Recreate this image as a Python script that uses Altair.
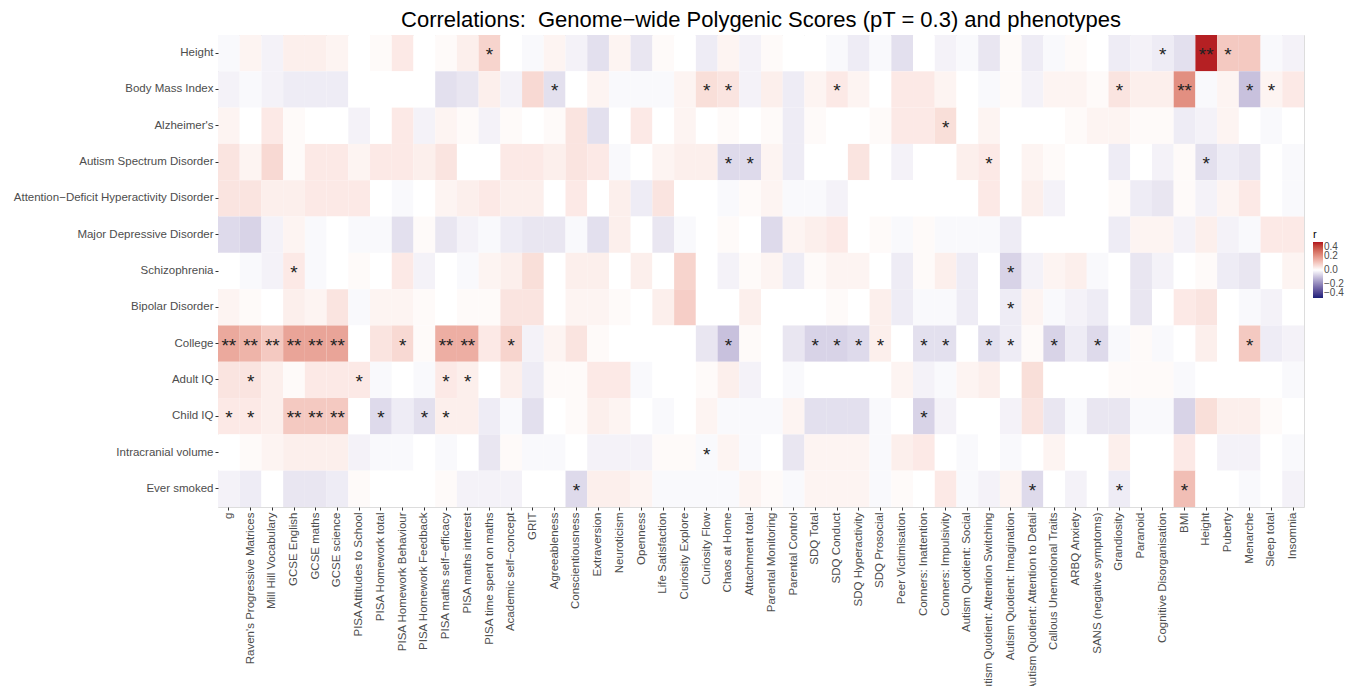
import altair as alt
import pandas as pd

TRAITS = ["Height", "Body Mass Index", "Alzheimer's", "Autism Spectrum Disorder",
          "Attention\u2212Deficit Hyperactivity Disorder", "Major Depressive Disorder",
          "Schizophrenia", "Bipolar Disorder", "College", "Adult IQ", "Child IQ",
          "Intracranial volume", "Ever smoked"]

PHENOTYPES = ["g", "Raven's Progressive Matrices", "Mill Hill Vocabulary", "GCSE English",
              "GCSE maths", "GCSE science", "PISA Attitudes to School", "PISA Homework total",
              "PISA Homework Behaviour", "PISA Homework Feedback", "PISA maths self\u2212efficacy",
              "PISA maths interest", "PISA time spent on maths", "Academic self\u2212concept", "GRIT",
              "Agreeableness", "Conscientiousness", "Extraversion", "Neuroticism", "Openness",
              "Life Satisfaction", "Curiosity Explore", "Curiosity Flow", "Chaos at Home",
              "Attachment total", "Parental Monitoring", "Parental Control", "SDQ Total",
              "SDQ Conduct", "SDQ Hyperactivity", "SDQ Prosocial", "Peer Victimisation",
              "Conners: Inattention", "Conners: Impulsivity", "Autism Quotient: Social",
              "Autism Quotient: Attention Switching", "Autism Quotient: Imagination",
              "Autism Quotient: Attention to Detail", "Callous Unemotional Traits", "ARBQ Anxiety",
              "SANS (negative symptoms)", "Grandiosity", "Paranoid", "Cognitive Disorganisation",
              "BMI", "Height", "Puberty", "Menarche", "Sleep total", "Insomnia"]

R_HEIGHT = [-0.01, 0.02, -0.02, 0.03, 0.03, 0.02, 0.0, 0.01, 0.04, 0.0, 0.01, 0.03, 0.08,
            0.0, -0.01, 0.02, -0.02, -0.05, 0.02, -0.04, 0.01, 0.0, -0.03, 0.02, -0.02,
            0.01, 0.0, 0.0, -0.01, -0.03, -0.01, -0.05, 0.0, -0.02, -0.01, -0.04, 0.01, -0.03,
            -0.01, 0.01, 0.0, -0.03, -0.02, -0.03, -0.05, 0.39, 0.1, 0.1, -0.01, -0.02]
R_BMI = [-0.02, -0.01, -0.02, -0.03, -0.03, -0.03, 0.0, 0.0, 0.0, 0.0, -0.05, -0.04, 0.03,
         -0.02, 0.07, -0.05, 0.0, 0.02, -0.01, -0.01, -0.01, 0.02, 0.06, 0.05, -0.02,
         0.03, -0.03, 0.02, 0.04, 0.02, 0.0, 0.04, 0.04, 0.02, 0.0, -0.01, 0.01, -0.02,
         0.02, 0.02, 0.01, 0.05, 0.03, 0.03, 0.21, -0.01, 0.02, -0.1, 0.02, 0.04]
R_ALZ = [0.02, 0.0, 0.04, 0.01, 0.0, 0.0, -0.02, 0.0, 0.04, -0.02, 0.02, 0.01, -0.02,
         0.01, 0.0, 0.01, 0.05, -0.05, 0.0, 0.04, 0.0, 0.02, 0.0, 0.01, 0.0,
         0.01, -0.03, 0.01, 0.0, 0.0, 0.01, 0.04, 0.04, 0.06, 0.0, 0.02, 0.0, 0.0,
         0.0, 0.01, 0.02, 0.02, 0.01, 0.01, -0.03, -0.02, 0.02, 0.0, -0.01, 0.0]
R_ASD = [0.05, 0.02, 0.07, 0.01, 0.04, 0.04, 0.02, 0.04, 0.04, 0.03, 0.05, 0.0, 0.0,
         0.04, 0.04, 0.03, 0.05, 0.04, -0.01, 0.0, 0.02, 0.03, 0.03, -0.06, -0.06,
         0.02, -0.03, 0.0, 0.0, 0.05, 0.0, -0.02, 0.0, 0.0, 0.03, 0.04, 0.0, 0.02,
         0.01, 0.0, 0.0, -0.03, 0.0, -0.02, 0.01, -0.05, -0.03, -0.04, 0.0, -0.01]
R_ADHD = [0.05, 0.05, 0.03, 0.03, 0.04, 0.04, 0.04, 0.0, -0.01, 0.0, 0.02, 0.03, 0.04,
          0.03, 0.03, 0.0, 0.04, 0.0, 0.03, -0.03, 0.05, 0.0, 0.0, -0.01, 0.01,
          0.02, -0.01, -0.01, -0.02, 0.0, 0.0, 0.0, 0.0, 0.0, 0.0, 0.04, 0.0, 0.03,
          -0.02, 0.0, 0.0, 0.01, -0.03, -0.04, 0.01, -0.02, 0.02, 0.04, 0.0, -0.01]
R_MDD = [-0.06, -0.07, -0.02, 0.02, -0.01, 0.0, -0.01, -0.01, -0.05, 0.01, -0.04, -0.02, -0.01,
         -0.03, -0.04, -0.04, -0.01, -0.05, 0.03, 0.0, -0.04, -0.01, 0.0, 0.01, 0.0,
         -0.06, 0.02, 0.03, 0.04, 0.0, 0.01, -0.01, 0.01, -0.01, -0.01, -0.01, -0.03, 0.0,
         0.0, 0.0, 0.0, -0.03, 0.02, 0.02, -0.02, 0.03, -0.02, -0.01, 0.04, 0.04]
R_SCZ = [0.0, -0.01, -0.02, 0.04, -0.01, 0.0, 0.01, 0.0, 0.04, -0.02, 0.0, -0.01, 0.02,
         0.03, 0.06, 0.0, 0.03, 0.03, 0.0, 0.03, 0.0, 0.08, 0.0, -0.02, 0.01,
         0.02, -0.03, 0.01, 0.02, 0.02, 0.0, -0.03, 0.01, 0.03, -0.03, 0.0, -0.07, -0.02,
         0.02, 0.03, -0.01, 0.0, -0.04, -0.02, 0.0, 0.01, -0.03, -0.04, 0.0, 0.02]
R_BIP = [0.02, 0.01, 0.0, 0.03, 0.02, 0.05, -0.01, 0.02, 0.02, 0.01, 0.0, 0.01, 0.01,
         0.05, 0.05, 0.0, 0.02, 0.02, 0.01, 0.0, 0.03, 0.09, 0.0, 0.0, 0.03,
         0.0, 0.0, 0.0, 0.01, 0.0, 0.03, -0.03, -0.01, -0.01, -0.03, 0.0, -0.03, 0.02,
         -0.01, -0.02, -0.03, 0.0, -0.04, 0.0, 0.04, 0.05, 0.0, -0.01, -0.02, 0.0]
R_COLLEGE = [0.16, 0.14, 0.1, 0.17, 0.17, 0.17, 0.0, 0.05, 0.07, 0.01, 0.15, 0.15, 0.04,
             0.08, -0.02, 0.02, 0.05, 0.01, 0.0, 0.0, 0.0, 0.0, -0.04, -0.1, 0.01,
             0.0, -0.04, -0.07, -0.07, -0.06, 0.03, 0.0, -0.05, -0.05, 0.0, -0.05, -0.03, 0.01,
             -0.07, -0.03, -0.06, -0.01, 0.01, -0.01, 0.0, 0.03, 0.0, 0.1, -0.03, -0.02]
R_ADULTIQ = [0.05, 0.05, 0.03, 0.01, 0.04, 0.04, 0.04, -0.01, 0.0, -0.01, 0.04, 0.03, 0.0,
             0.03, -0.03, 0.01, 0.01, 0.04, 0.04, -0.01, 0.0, 0.0, 0.01, 0.03, -0.02,
             0.0, -0.01, 0.0, 0.0, 0.0, 0.0, 0.02, -0.02, -0.01, 0.02, 0.03, 0.0, 0.06,
             0.0, 0.0, 0.0, 0.01, 0.01, 0.01, -0.01, 0.0, 0.0, 0.0, 0.0, -0.01]
R_CHILDIQ = [0.04, 0.04, 0.03, 0.1, 0.1, 0.1, 0.0, -0.06, -0.03, -0.05, 0.03, 0.03, -0.03,
             -0.01, -0.05, 0.0, 0.01, 0.03, 0.02, 0.0, -0.01, 0.0, 0.02, -0.01, -0.01,
             -0.01, 0.02, -0.05, -0.05, -0.05, -0.01, 0.0, -0.07, -0.02, 0.0, 0.0, -0.02, 0.05,
             -0.04, -0.01, -0.04, -0.04, -0.01, -0.01, -0.07, 0.06, 0.03, 0.03, 0.01, 0.0]
R_ICV = [0.0, 0.01, 0.02, 0.03, 0.03, 0.03, -0.02, -0.01, -0.01, 0.0, -0.01, 0.0, -0.04,
         0.01, -0.01, -0.01, 0.0, -0.02, -0.02, -0.02, 0.01, 0.01, -0.01, 0.02, -0.01,
         0.0, -0.04, 0.02, 0.02, 0.02, -0.01, 0.03, 0.04, 0.0, -0.01, 0.0, -0.01, 0.0,
         0.02, 0.0, 0.0, 0.03, 0.0, 0.0, 0.04, 0.0, -0.02, -0.02, 0.0, -0.01]
R_SMOKED = [-0.02, -0.03, 0.0, -0.04, -0.04, -0.03, 0.01, 0.0, 0.0, 0.0, 0.01, -0.02, -0.02,
            -0.02, 0.0, 0.0, -0.06, 0.03, 0.03, 0.02, -0.01, -0.01, -0.01, -0.01, 0.02,
            0.01, -0.01, 0.02, 0.02, 0.02, -0.01, 0.01, 0.0, 0.04, -0.01, -0.02, 0.02, -0.06,
            0.0, -0.02, 0.0, -0.03, 0.0, 0.0, 0.12, 0.0, 0.0, -0.01, 0.0, -0.02]

ROWS = [R_HEIGHT, R_BMI, R_ALZ, R_ASD, R_ADHD, R_MDD, R_SCZ, R_BIP,
        R_COLLEGE, R_ADULTIQ, R_CHILDIQ, R_ICV, R_SMOKED]

# significance markers: trait index, phenotype index, label
STAR_TRAIT = [0, 0, 0, 0,
              1, 1, 1, 1, 1, 1, 1, 1,
              2,
              3, 3, 3, 3,
              6, 6,
              7,
              8, 8, 8, 8, 8, 8, 8, 8, 8, 8, 8, 8, 8, 8, 8, 8, 8, 8, 8, 8, 8, 8,
              9, 9, 9, 9,
              10, 10, 10, 10, 10, 10, 10, 10, 10,
              11,
              12, 12, 12, 12]
STAR_PHENO = [12, 43, 45, 46,
              15, 22, 23, 28, 41, 44, 47, 48,
              33,
              23, 24, 35, 45,
              3, 36,
              36,
              0, 1, 2, 3, 4, 5, 8, 10, 11, 13, 23, 27, 28, 29, 30, 32, 33, 35, 36, 38, 40, 47,
              1, 6, 10, 11,
              0, 1, 3, 4, 5, 7, 9, 10, 32,
              22,
              16, 37, 41, 44]
STAR_TEXT = ["*", "*", "**", "*",
             "*", "*", "*", "*", "*", "**", "*", "*",
             "*",
             "*", "*", "*", "*",
             "*", "*",
             "*",
             "**", "**", "**", "**", "**", "**", "*", "**", "**", "*", "*", "*", "*", "*", "*", "*", "*", "*", "*", "*", "*", "*",
             "*", "*", "*", "*",
             "*", "*", "**", "**", "**", "*", "*", "*", "*",
             "*",
             "*", "*", "*", "*"]

cells = pd.DataFrame([
    {"trait": TRAITS[i], "phenotype": PHENOTYPES[j], "r": ROWS[i][j]}
    for i in range(len(TRAITS)) for j in range(len(PHENOTYPES))
])
stars = pd.DataFrame({
    "trait": [TRAITS[i] for i in STAR_TRAIT],
    "phenotype": [PHENOTYPES[j] for j in STAR_PHENO],
    "label": STAR_TEXT,
})

FONT = "Liberation Sans"
LABEL_COLOR = "#4d4d4d"

x_enc = alt.X("phenotype:N", sort=PHENOTYPES,
              scale=alt.Scale(paddingInner=0, paddingOuter=0),
              axis=alt.Axis(title=None, labelAngle=270, labelAlign="right",
                            labelBaseline="middle", labelFontSize=11.5, labelFont=FONT,
                            labelColor=LABEL_COLOR, tickColor="#333333", tickSize=3,
                            domain=False, labelPadding=2, labelOverlap=False,
                            labelLimit=400))
y_enc = alt.Y("trait:N", sort=TRAITS,
              scale=alt.Scale(paddingInner=0, paddingOuter=0),
              axis=alt.Axis(title=None, labelFontSize=11.5, labelFont=FONT,
                            labelColor=LABEL_COLOR, tickColor="#333333", tickSize=3,
                            domain=False, labelPadding=2, labelLimit=400))

heat = alt.Chart(cells).mark_rect().encode(
    x=x_enc,
    y=y_enc,
    color=alt.Color("r:Q",
                    scale=alt.Scale(domain=[-0.4, 0, 0.4],
                                    range=["#1B1F78", "#FFFFFF", "#B2141E"],
                                    interpolate="lab"),
                    legend=alt.Legend(title="r", orient="none", legendX=1095, legendY=194,
                                      gradientLength=56, gradientThickness=10,
                                      values=[-0.4, -0.2, 0.0, 0.2, 0.4], format=".1f",
                                      labelOverlap=False,
                                      labelFontSize=10, labelFont=FONT, labelColor=LABEL_COLOR,
                                      titleFontSize=11, titleFont=FONT, titleColor="#000000",
                                      titleFontWeight="normal", titlePadding=2,
                                      labelOffset=1)),
)

text = alt.Chart(stars).mark_text(fontSize=19, font=FONT, color="#222222",
                                  baseline="middle", dy=2).encode(
    x=alt.X("phenotype:N", sort=PHENOTYPES),
    y=alt.Y("trait:N", sort=TRAITS),
    text="label:N",
)

chart = (heat + text).properties(
    width=1086,
    height=472,
    title=alt.TitleParams(
        text="Correlations:\u00a0 Genome\u2212wide Polygenic Scores (pT = 0.3) and phenotypes",
        fontSize=22, font=FONT, fontWeight="normal", color="#000000",
        anchor="middle", offset=3),
    autosize=alt.AutoSizeParams(type="none"),
    padding={"left": 210, "top": 27, "right": 41, "bottom": 179},
).configure_view(stroke=None).configure(background="white")

chart.save("out.html", embed_options={"renderer": "svg", "actions": False})
